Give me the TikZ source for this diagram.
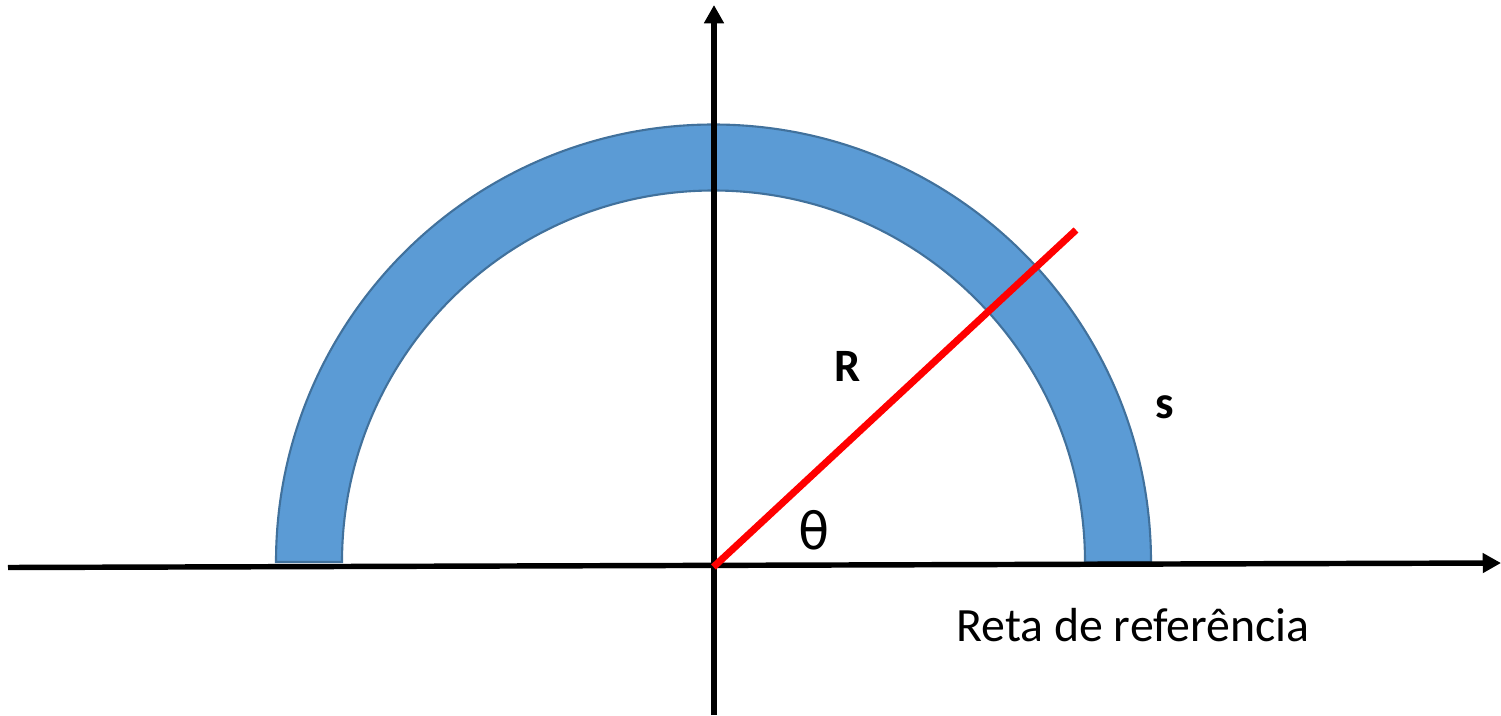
\documentclass[tikz,border=0pt]{standalone}
\usepackage{fontspec}
\setmainfont{Carlito}
\newfontfamily\thetafont{DejaVu Sans}
\usetikzlibrary{arrows.meta}
\definecolor{ringfill}{HTML}{5B9BD5}
\definecolor{ringedge}{HTML}{41719C}
\tikzset{
  axisline/.style={line width=1.55pt,black,-{Triangle[length=5.2pt,width=5.4pt]}},
  radiusline/.style={line width=2pt,red},
  ring/.style={fill=ringfill,draw=ringedge,line width=0.6pt},
  lbl/.style={inner sep=0pt,font=\fontsize{13.2}{15}\selectfont}
}
\begin{document}
\begin{tikzpicture}
\useasboundingbox (0,0) rectangle (15.01,7.15);
\coordinate (O) at (7.135,1.53);
% semi-annulus
\path[ring] (2.76,1.53) arc[start angle=180,end angle=0,radius=4.375]
  -- (10.85,1.53) arc[start angle=0,end angle=180,radius=3.715] -- cycle;
% axes
\coordinate (xl) at (0.08,1.475);
\coordinate (xr) at (15.01,1.52);
\coordinate (yb) at (7.14,0);
\coordinate (yt) at (7.14,7.10);
\draw[axisline] (xl) -- (xr);
\draw[axisline] (yb) -- (yt);
% radius
\coordinate (o2) at (7.135,1.48);
\coordinate (re) at (10.76,4.85);
\draw[radiusline] (o2) -- (re);
% labels
\node[lbl,font=\fontsize{13.2}{15}\selectfont\bfseries] (R) at (8.48,3.49) {R};
\node[lbl,font=\fontsize{13.2}{15}\selectfont\bfseries] (s) at (11.645,3.08) {s};
\node[lbl,font={\thetafont\fontsize{14.5}{17}\selectfont}] (th) at (8.14,1.85) {θ};
\node[lbl,font=\fontsize{13.6}{16}\selectfont] (ref) at (11.33,0.90) {Reta de referência};
\end{tikzpicture}
\end{document}
